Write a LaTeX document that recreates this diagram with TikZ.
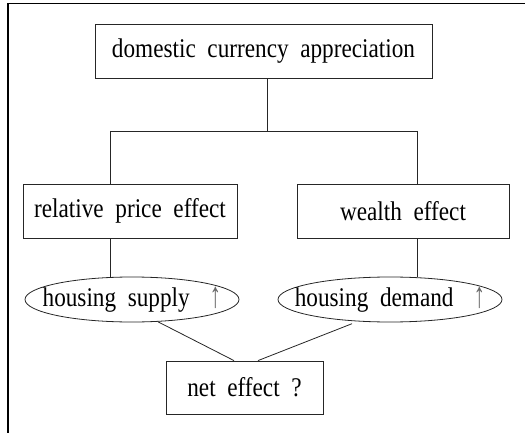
\documentclass[tikz,border=0pt]{standalone}
\usepackage{fontspec}
\setmainfont{Liberation Serif}[WordSpace=2, FakeStretch=0.86]
\usetikzlibrary{shapes.geometric}
\newcommand{\uparr}{\hspace{20pt}\textcolor{black!60}{\raisebox{-1pt}{\scalebox{1}[1.35]{↑}}}}
\tikzset{
  box/.style={draw=black!85, line width=0.8pt, rectangle, inner sep=0pt, align=center, font=\fontsize{27}{30}\selectfont},
  oval/.style={draw=black!85, line width=0.8pt, ellipse, inner sep=0pt, font=\fontsize{27}{30}\selectfont},
  link/.style={draw=black!85, line width=0.8pt},
  frame/.style={draw=black, line width=1.3pt}
}
\begin{document}
\begin{tikzpicture}[x=1pt,y=-1pt]
\useasboundingbox (0,0) rectangle (525,433);
\draw[frame] (8,433) -- (8,3.5) -- (525,3.5);
\node[box, minimum width=337pt, minimum height=54pt] (top) at (263.5,51) {\raisebox{-2pt}{domestic currency appreciation}};
\node[box, minimum width=214pt, minimum height=54pt] (rp) at (130,211) {\raisebox{-1pt}{relative price effect}};
\node[box, minimum width=212pt, minimum height=54pt] (we) at (403,211) {\raisebox{-1pt}{wealth effect}};
\node[oval, minimum width=214pt, minimum height=45pt] (hs) at (132,299.5) {\makebox[0pt]{housing supply\uparr}};
\node[oval, minimum width=224pt, minimum height=45pt] (hd) at (390,299.5) {\makebox[0pt]{housing demand\uparr}};
\node[box, minimum width=157pt, minimum height=53pt] (ne) at (244.5,387.5) {net effect ?};
\coordinate (j) at (267,131);
\coordinate (bl) at (110,131);
\coordinate (br) at (417,131);
\draw[link] ([xshift=3.5pt]top.south) -- (j);
\draw[link] (bl) -- (br);
\draw[link] (bl) -- (bl |- rp.north);
\draw[link] (br) -- (br |- we.north);
\draw[link] (rp.south -| bl) -- (bl |- hs.north);
\draw[link] (we.south -| br) -- (br |- hd.north);
\draw[link] ([xshift=26pt,yshift=0.6pt]hs.south) -- ([xshift=-10.5pt]ne.north);
\draw[link] ([xshift=-38pt,yshift=-1.3pt]hd.south) -- ([xshift=13.5pt]ne.north);
\end{tikzpicture}
\end{document}
